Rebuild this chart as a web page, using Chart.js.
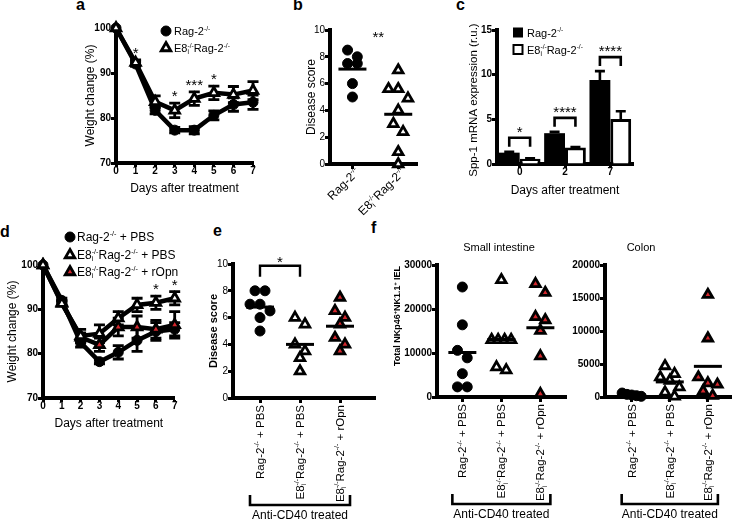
<!DOCTYPE html>
<html>
<head>
<meta charset="utf-8">
<script src="https://cdn.jsdelivr.net/npm/chart.js@4.4.1/dist/chart.umd.min.js"></script>
<style>
  body { margin: 0; width: 740px; height: 525px; position: relative; overflow: hidden; background: #fff; }
  canvas { position: absolute; }
  .tag { position: absolute; font: bold 16px/16px "Liberation Sans", Arial, sans-serif; color: #000; }
</style>
</head>
<body>
<div class="tag" style="left:76px;top:-3px">a</div>
<div class="tag" style="left:293px;top:-3px">b</div>
<div class="tag" style="left:456px;top:-3px">c</div>
<div class="tag" style="left:0px;top:224px">d</div>
<div class="tag" style="left:213px;top:223px">e</div>
<div class="tag" style="left:371px;top:220px">f</div>
<canvas id="chartA" width="186" height="182" style="left:76px;top:18px"></canvas>
<canvas id="chartB" width="130" height="200" style="left:296px;top:20px"></canvas>
<canvas id="chartC" width="180" height="190" style="left:460px;top:12px"></canvas>
<canvas id="chartD" width="180" height="210" style="left:3px;top:225px"></canvas>
<canvas id="chartE" width="190" height="285" style="left:200px;top:240px"></canvas>
<canvas id="chartF1" width="190" height="285" style="left:385px;top:240px"></canvas>
<canvas id="chartF2" width="175" height="285" style="left:565px;top:240px"></canvas>
<script>
// ---------- data ----------
const days = [0, 1, 2, 3, 4, 5, 6, 7]

// a - weight change
const aRag = [100, 92, 81.7, 77.3, 77.3, 80.6, 83, 83.5]
const aRagErr = [0, 0.5, 0.8, 0.6, 0.8, 1, 1.5, 1.6]
const aE8 = [100, 92.3, 83.6, 81.7, 84.3, 85.6, 85.2, 86.1]
const aE8Err = [0, 0.6, 1.3, 1.6, 1.5, 1.5, 1.8, 2]
const aStars = ['', '*', '', '*', '***', '*', '', '']

// b - disease score
const bGroups = ['Rag-2^{-/-}', 'E8_{i}^{-/-}Rag-2^{-/-}']
const bRag = [8.5, 8.0, 7.5, 7.5, 6.0, 5.0]
const bE8 = [7.0, 5.6, 5.6, 4.9, 4.0, 3.0, 2.4, 0.9, 0]

// c - Spp-1 expression
const cDays = ['0', '2', '7']
const cRag = [1.27, 3.45, 9.4]
const cRagErr = [0.1, 0.15, 1.0]
const cE8 = [0.6, 1.85, 5.05]
const cE8Err = [0.05, 0.05, 0.85]
const cStars = ['*', '****', '****']

// d - weight change with rOpn
const dRag = [100, 92, 82.5, 78.2, 80.3, 83, 85, 85.5]
const dRagErr = [0, 0.5, 1, 0.5, 1.5, 2.5, 2, 1.5]
const dE8 = [100, 91.3, 84, 84.5, 88, 91, 91.5, 92.5]
const dE8Err = [0, 0.5, 1.5, 2, 1.5, 1.5, 1.5, 1.5]
const dOpn = [100, 91.5, 83.7, 82, 86, 86, 85.5, 86.5]
const dOpnErr = [0, 0.5, 1, 1.5, 2, 2.5, 2, 3]
const dStars = ['', '', '', '', '', '', '*', '*']

// e, f - anti-CD40 treated groups
const efGroups = ['Rag-2^{-/-} + PBS', 'E8_{i}^{-/-}Rag-2^{-/-} + PBS', 'E8_{i}^{-/-}Rag-2^{-/-} + rOpn']
const eRag = [8, 8, 7, 7, 6.5, 6, 5]
const eE8 = [6, 5.5, 4, 3.5, 3, 2]
const eOpn = [7.5, 6.5, 6, 5.5, 4.5, 4, 3.5]
const siRag = [25000, 16400, 10600, 8900, 5300, 2300, 2300]
const siE8 = [26600, 13000, 13000, 13000, 13000, 6800, 6100]
const siOpn = [25700, 23700, 18200, 17500, 15100, 9300, 700]
const coRag = [600, 400, 300, 200, 100]
const coE8 = [4700, 3500, 3000, 2500, 1500, 700, 100]
const coOpn = [15500, 8900, 3000, 2100, 1900, 900, 200]

// ---------- helpers ----------
const FONT = '"Liberation Sans", Arial, Helvetica, sans-serif'
Chart.defaults.font.family = FONT
Chart.defaults.color = '#000'
const RED = '#d3262c'

const CIRCLE = { pointStyle: 'circle', pointRadius: 5, pointBackgroundColor: '#000', pointBorderColor: '#000', pointBorderWidth: 1 }
const OPEN = { pointStyle: 'triangle', pointRadius: 5.5, pointBackgroundColor: '#fff', pointBorderColor: '#000', pointBorderWidth: 2.8 }
const REDTRI = { pointStyle: 'triangle', pointRadius: 5.5, pointBackgroundColor: RED, pointBorderColor: '#000', pointBorderWidth: 2.8 }
const BLACKSQ = { pointStyle: 'rect', pointRadius: 5, pointBackgroundColor: '#000', pointBorderWidth: 0 }
const WHITESQ = { pointStyle: 'rect', pointRadius: 4.5, pointBackgroundColor: '#fff', pointBorderWidth: 2 }

// text with ^{sup} and _{sub}
function richParse(str) {
  const out = []
  let buf = '', i = 0
  while (i < str.length) {
    const c = str[i]
    if ((c === '^' || c === '_') && str[i + 1] === '{') {
      if (buf) { out.push({ t: buf, m: 'n' }); buf = '' }
      const end = str.indexOf('}', i)
      out.push({ t: str.slice(i + 2, end), m: c === '^' ? 'sup' : 'sub' })
      i = end + 1
    } else { buf += c; i++ }
  }
  if (buf) out.push({ t: buf, m: 'n' })
  return out
}

function richDraw(ctx, str, x, y, size, weight, align) {
  const segs = richParse(str), small = size * 0.6
  const items = []
  let w = 0
  segs.forEach((s, i) => {
    const fs = s.m === 'n' ? size : small
    ctx.font = weight + ' ' + fs + 'px ' + FONT
    const sw = ctx.measureText(s.t).width
    if (s.m === 'sup' && i > 0 && segs[i - 1].m === 'sub') {
      const px = items[items.length - 1].x
      items.push({ s: s, fs: fs, x: px })
      w = Math.max(w, px + sw)
    } else {
      items.push({ s: s, fs: fs, x: w })
      w += sw
    }
  })
  const x0 = align === 'right' ? x - w : align === 'center' ? x - w / 2 : x
  ctx.textAlign = 'left'
  ctx.textBaseline = 'alphabetic'
  items.forEach(it => {
    ctx.font = weight + ' ' + it.fs + 'px ' + FONT
    const dy = it.s.m === 'sup' ? -size * 0.4 : it.s.m === 'sub' ? size * 0.2 : 0
    ctx.fillText(it.s.t, x0 + it.x, y + dy)
  })
  return w
}

function drawMarker(ctx, st, x, y) {
  const r = st.pointRadius
  ctx.save()
  ctx.fillStyle = st.pointBackgroundColor
  ctx.strokeStyle = '#000'
  ctx.lineWidth = st.pointBorderWidth
  ctx.beginPath()
  if (st.pointStyle === 'circle') ctx.arc(x, y, r, 0, 2 * Math.PI)
  else if (st.pointStyle === 'rect') ctx.rect(x - r, y - r, 2 * r, 2 * r)
  else {
    for (let k = 0; k < 3; k++) {
      const a = k * 2 * Math.PI / 3
      const px = x + Math.sin(a) * r, py = y - Math.cos(a) * r
      if (k) ctx.lineTo(px, py); else ctx.moveTo(px, py)
    }
    ctx.closePath()
  }
  ctx.fill()
  if (st.pointBorderWidth) ctx.stroke()
  ctx.restore()
}

function drawLegend(ctx, ca, lg) {
  lg.items.forEach((it, k) => {
    const cy = ca.top + lg.ys[k]
    drawMarker(ctx, it.st, ca.left + lg.x, cy)
    ctx.fillStyle = '#000'
    richDraw(ctx, it.label, ca.left + lg.x + lg.dx, cy + 4, lg.size, 'normal', 'left')
  })
}

function drawStar(ctx, s, x, baseline) {
  ctx.save()
  ctx.fillStyle = '#000'
  ctx.font = '15px ' + FONT
  ctx.textAlign = 'center'
  ctx.textBaseline = 'alphabetic'
  ctx.fillText(s, x, baseline)
  ctx.restore()
}

function drawYTitle(ctx, t) {
  ctx.save()
  ctx.fillStyle = '#000'
  ctx.translate(t.x, t.y)
  ctx.rotate(-Math.PI / 2)
  richDraw(ctx, t.text, 0, t.size * 0.36, t.size, t.weight, 'center')
  ctx.restore()
}

// simple dot-plot spreading: points of close value share a row, centred on the category
function swarm(values, pxPerY, pxPerCat, diam) {
  const order = values.map((v, i) => i).sort((a, b) => values[b] - values[a])
  const offs = values.map(() => 0)
  let row = []
  const flush = () => {
    const d = row.length > 1 ? Math.min(diam, 20 / (row.length - 1)) : 0
    row.forEach((idx, k) => { offs[idx] = (k - (row.length - 1) / 2) * d / pxPerCat })
    row = []
  }
  order.forEach(idx => {
    if (row.length && (values[row[0]] - values[idx]) * pxPerY >= diam) flush()
    row.push(idx)
  })
  flush()
  return offs
}

function axisBase(o) {
  const grid = Object.assign({ display: true, drawOnChartArea: false, drawTicks: true, tickLength: 5, tickWidth: 3, tickColor: '#000' }, o.grid || {})
  return Object.assign({ border: { display: true, color: '#000', width: 4 } }, o, { grid: grid })
}
const fixW = w => s => { s.width = w }
const fixH = h => s => { s.height = h }
const fixTicks = vals => s => { s.ticks = vals.map(v => ({ value: v })) }
const BOLD10 = { size: 10, weight: 'bold' }

function lineSet(vals, errs, st) {
  return Object.assign({
    data: days.map((d, i) => ({ x: d, y: vals[i] })),
    errors: errs, borderColor: '#000', borderWidth: 4.5, clip: false, tension: 0
  }, st)
}

function dotSets(groupVals, styles, pxY, pxCat) {
  return groupVals.map((vals, g) => {
    const offs = swarm(vals, pxY, pxCat, 10)
    return Object.assign({ data: vals.map((v, i) => ({ x: g + offs[i], y: v })), clip: false }, styles[g])
  })
}

const errorBars = {
  id: 'errorBars',
  beforeDatasetsDraw(chart) {
    const ctx = chart.ctx, y = chart.scales.y
    ctx.save()
    ctx.strokeStyle = '#000'
    ctx.lineWidth = 2.8
    chart.data.datasets.forEach((ds, i) => {
      chart.getDatasetMeta(i).data.forEach((pt, j) => {
        const e = ds.errors[j]
        if (!e) return
        const v = ds.data[j].y
        const y1 = y.getPixelForValue(v + e), y2 = y.getPixelForValue(v - e)
        ctx.beginPath()
        ctx.moveTo(pt.x, y1); ctx.lineTo(pt.x, y2)
        ctx.moveTo(pt.x - 5.5, y1); ctx.lineTo(pt.x + 5.5, y1)
        ctx.moveTo(pt.x - 5.5, y2); ctx.lineTo(pt.x + 5.5, y2)
        ctx.stroke()
      })
    })
    ctx.restore()
  }
}

function lineExtras(cfg) {
  return {
    id: 'lineExtras',
    afterDatasetsDraw(chart) {
      const ctx = chart.ctx, ca = chart.chartArea, x = chart.scales.x, y = chart.scales.y
      cfg.stars.forEach((s, i) => {
        if (!s) return
        let top = Infinity
        chart.data.datasets.forEach(ds => {
          top = Math.min(top, y.getPixelForValue(ds.data[i].y + (ds.errors[i] || 0)))
        })
        drawStar(ctx, s, x.getPixelForValue(days[i]), top - 2)
      })
      drawLegend(ctx, ca, cfg.legend)
    }
  }
}

function dotExtras(cfg) {
  return {
    id: 'dotExtras',
    afterDatasetsDraw(chart) {
      const ctx = chart.ctx, ca = chart.chartArea, x = chart.scales.x, y = chart.scales.y
      ctx.save()
      ctx.strokeStyle = '#000'
      ctx.fillStyle = '#000'
      // group means
      ctx.lineWidth = 3
      chart.data.datasets.forEach((ds, g) => {
        const m = ds.data.reduce((s, p) => s + p.y, 0) / ds.data.length
        const px = x.getPixelForValue(g), py = y.getPixelForValue(m)
        ctx.beginPath(); ctx.moveTo(px - 14, py); ctx.lineTo(px + 14, py); ctx.stroke()
      })
      // category labels
      cfg.groups.forEach((lab, g) => {
        ctx.save()
        ctx.translate(x.getPixelForValue(g) + cfg.labDx, ca.bottom + cfg.labDy)
        ctx.rotate(cfg.labAngle)
        richDraw(ctx, lab, 0, 4, cfg.labSize, 'normal', 'right')
        ctx.restore()
      })
      // significance
      if (cfg.sig) {
        const sg = cfg.sig
        const maxV = Math.max(...chart.data.datasets[sg.from].data.map(p => p.y), ...chart.data.datasets[sg.to].data.map(p => p.y))
        const x0 = x.getPixelForValue(sg.from), x1 = x.getPixelForValue(sg.to)
        const top = y.getPixelForValue(maxV) - sg.gap
        ctx.lineWidth = 2.4
        if (sg.bracket) {
          ctx.beginPath()
          ctx.moveTo(x0, top + 11); ctx.lineTo(x0, top); ctx.lineTo(x1, top); ctx.lineTo(x1, top + 11)
          ctx.stroke()
        }
        drawStar(ctx, sg.label, (x0 + x1) / 2 + sg.dx, top + 1)
      }
      // treatment bracket
      if (cfg.treated) {
        const x0 = x.getPixelForValue(0) - 10, x2 = x.getPixelForValue(2) + 10, by = ca.bottom + 107
        ctx.lineWidth = 2.6
        ctx.beginPath()
        ctx.moveTo(x0, by - 10); ctx.lineTo(x0, by); ctx.lineTo(x2, by); ctx.lineTo(x2, by - 10)
        ctx.stroke()
        ctx.font = '12px ' + FONT
        ctx.textAlign = 'center'
        ctx.textBaseline = 'alphabetic'
        ctx.fillText('Anti-CD40 treated', x.getPixelForValue(1), ca.bottom + 121)
      }
      if (cfg.title) {
        ctx.font = '11px ' + FONT
        ctx.textAlign = 'center'
        ctx.textBaseline = 'middle'
        ctx.fillText(cfg.title.text, cfg.title.x, cfg.title.y)
      }
      if (cfg.yTitle) drawYTitle(ctx, cfg.yTitle)
      ctx.restore()
    }
  }
}

const barExtras = {
  id: 'barExtras',
  afterDatasetsDraw(chart) {
    const ctx = chart.ctx, ca = chart.chartArea, y = chart.scales.y
    const tops = []
    ctx.save()
    ctx.strokeStyle = '#000'
    ctx.lineWidth = 2.6
    chart.data.datasets.forEach((ds, i) => {
      chart.getDatasetMeta(i).data.forEach((bar, j) => {
        const yt = y.getPixelForValue(ds.data[j] + ds.errors[j])
        ctx.beginPath()
        ctx.moveTo(bar.x, bar.y); ctx.lineTo(bar.x, yt)
        ctx.moveTo(bar.x - 5, yt); ctx.lineTo(bar.x + 5, yt)
        ctx.stroke()
        tops[j] = Math.min(tops[j] === undefined ? Infinity : tops[j], yt)
      })
    })
    const m0 = chart.getDatasetMeta(0).data, m1 = chart.getDatasetMeta(1).data
    cStars.forEach((s, j) => {
      const top = tops[j] - 14
      ctx.beginPath()
      ctx.moveTo(m0[j].x, top + 9); ctx.lineTo(m0[j].x, top); ctx.lineTo(m1[j].x, top); ctx.lineTo(m1[j].x, top + 9)
      ctx.stroke()
      drawStar(ctx, s, (m0[j].x + m1[j].x) / 2, top - 1)
    })
    ctx.restore()
    drawLegend(ctx, ca, {
      items: [{ st: BLACKSQ, label: 'Rag-2^{-/-}' }, { st: WHITESQ, label: 'E8_{i}^{-/-}Rag-2^{-/-}' }],
      x: 21, ys: [2.5, 19.5], dx: 9, size: 11
    })
    drawYTitle(ctx, { text: 'Spp-1 mRNA expression (r.u.)', x: 13, y: 88, size: 11.5, weight: 'normal' })
  }
}

const base = {
  responsive: false, animation: false, events: [],
  plugins: { legend: { display: false }, tooltip: { enabled: false } }
}
const xTitle = { display: true, text: 'Days after treatment', font: { size: 12 }, padding: { top: 0, bottom: 4 } }

// ---------- a ----------
new Chart(document.getElementById('chartA'), {
  type: 'line',
  data: { datasets: [lineSet(aE8, aE8Err, OPEN), lineSet(aRag, aRagErr, CIRCLE)] },
  options: Object.assign({}, base, {
    layout: { padding: { top: 10, right: 9, left: 0, bottom: 0 } },
    scales: {
      x: axisBase({ type: 'linear', min: 0, max: 7, afterFit: fixH(37),
        grid: { tickLength: 4 },
        ticks: { stepSize: 1, font: BOLD10, padding: -2 }, title: xTitle }),
      y: axisBase({ min: 70, max: 100, afterFit: fixW(40),
        ticks: { stepSize: 10, font: BOLD10, padding: 0 },
        title: { display: true, text: 'Weight change (%)', font: { size: 12 }, padding: { top: 7 } } })
    }
  }),
  plugins: [errorBars, lineExtras({
    stars: aStars,
    legend: { items: [{ st: CIRCLE, label: 'Rag-2^{-/-}' }, { st: OPEN, label: 'E8_{i}^{-/-}Rag-2^{-/-}' }], x: 50, ys: [3, 20], dx: 8, size: 11 }
  })]
})

// ---------- b ----------
new Chart(document.getElementById('chartB'), {
  type: 'scatter',
  data: { datasets: dotSets([bRag, bE8], [CIRCLE, OPEN], 13.4, 47) },
  options: Object.assign({}, base, {
    layout: { padding: { top: 10, right: 6, left: 0, bottom: 0 } },
    scales: {
      x: axisBase({ type: 'linear', min: -0.49, max: 1.425, afterFit: fixH(56),
        afterBuildTicks: fixTicks([0, 1]), ticks: { display: false } }),
      y: axisBase({ min: 0, max: 10, afterFit: fixW(34),
        ticks: { stepSize: 2, font: { size: 10 }, padding: 0 },
        title: { display: true, text: 'Disease score', font: { size: 12 }, padding: { top: 8 } } })
    }
  }),
  plugins: [dotExtras({ groups: bGroups, labDx: 5, labDy: 6, labAngle: -Math.PI / 4, labSize: 12,
    sig: { from: 0, to: 1, label: '**', bracket: false, gap: 9, dx: 3 } })]
})

// ---------- c ----------
new Chart(document.getElementById('chartC'), {
  type: 'bar',
  data: {
    labels: cDays,
    datasets: [
      { data: cRag, errors: cRagErr, backgroundColor: '#000', borderColor: '#000', borderWidth: 0, categoryPercentage: 0.92, barPercentage: 1 },
      { data: cE8, errors: cE8Err, backgroundColor: '#fff', borderColor: '#000', borderWidth: 3, categoryPercentage: 0.92, barPercentage: 1 }
    ]
  },
  options: Object.assign({}, base, {
    layout: { padding: { top: 18, right: 7, left: 0, bottom: 0 } },
    scales: {
      x: axisBase({ afterFit: fixH(38), grid: { offset: false, tickLength: 4 },
        ticks: { font: BOLD10, padding: -2 }, title: xTitle }),
      y: axisBase({ min: 0, max: 15, afterFit: fixW(37),
        ticks: { stepSize: 5, font: BOLD10, padding: 0 } })
    }
  }),
  plugins: [barExtras]
})

// ---------- d ----------
new Chart(document.getElementById('chartD'), {
  type: 'line',
  data: { datasets: [lineSet(dE8, dE8Err, OPEN), lineSet(dOpn, dOpnErr, REDTRI), lineSet(dRag, dRagErr, CIRCLE)] },
  options: Object.assign({}, base, {
    layout: { padding: { top: 40, right: 7, left: 0, bottom: 0 } },
    scales: {
      x: axisBase({ type: 'linear', min: 0, max: 7, afterFit: fixH(37),
        grid: { tickLength: 4 },
        ticks: { stepSize: 1, font: BOLD10, padding: -2 }, title: xTitle }),
      y: axisBase({ min: 70, max: 100, afterFit: fixW(40),
        ticks: { stepSize: 10, font: BOLD10, padding: 0 },
        title: { display: true, text: 'Weight change (%)', font: { size: 12 }, padding: { top: 2 } } })
    }
  }),
  plugins: [errorBars, lineExtras({
    stars: dStars,
    legend: {
      items: [
        { st: CIRCLE, label: 'Rag-2^{-/-} + PBS' },
        { st: OPEN, label: 'E8_{i}^{-/-}Rag-2^{-/-} + PBS' },
        { st: REDTRI, label: 'E8_{i}^{-/-}Rag-2^{-/-} + rOpn' }
      ],
      x: 27, ys: [-28, -10, 7], dx: 7, size: 12
    }
  })]
})

// ---------- e ----------
new Chart(document.getElementById('chartE'), {
  type: 'scatter',
  data: { datasets: dotSets([eRag, eE8, eOpn], [CIRCLE, OPEN, REDTRI], 13.4, 40) },
  options: Object.assign({}, base, {
    layout: { padding: { top: 24, right: 15, left: 0, bottom: 0 } },
    scales: {
      x: axisBase({ type: 'linear', min: -0.675, max: 2.875, afterFit: fixH(127),
        afterBuildTicks: fixTicks([0, 1, 2]), ticks: { display: false } }),
      y: axisBase({ min: 0, max: 10, afterFit: fixW(33),
        ticks: { stepSize: 2, font: { size: 10 }, padding: 0 },
        title: { display: true, text: 'Disease score', font: { size: 11, weight: 'bold' }, padding: { top: 7 } } })
    }
  }),
  plugins: [dotExtras({ groups: efGroups, labDx: 0, labDy: 7, labAngle: -Math.PI / 2, labSize: 11.5, treated: true,
    sig: { from: 0, to: 1, label: '*', bracket: true, gap: 25, dx: 0 } })]
})

// ---------- f: small intestine ----------
new Chart(document.getElementById('chartF1'), {
  type: 'scatter',
  data: { datasets: dotSets([siRag, siE8, siOpn], [CIRCLE, OPEN, REDTRI], 132 / 30000, 40) },
  options: Object.assign({}, base, {
    layout: { padding: { top: 25, right: 5, left: 0, bottom: 0 } },
    scales: {
      x: axisBase({ type: 'linear', min: -0.65, max: 2.675, afterFit: fixH(128),
        afterBuildTicks: fixTicks([0, 1, 2]), ticks: { display: false } }),
      y: axisBase({ min: 0, max: 30000, afterFit: fixW(52),
        ticks: { stepSize: 10000, font: BOLD10, padding: 0, callback: v => String(v) } })
    }
  }),
  plugins: [dotExtras({ groups: efGroups, labDx: 0, labDy: 7, labAngle: -Math.PI / 2, labSize: 11.5, treated: true,
    title: { text: 'Small intestine', x: 114, y: 8 },
    yTitle: { text: 'Total NKp46^{+}NK1.1^{+} IEL', x: 12, y: 76, size: 9, weight: 'bold' } })]
})

// ---------- f: colon ----------
new Chart(document.getElementById('chartF2'), {
  type: 'scatter',
  data: { datasets: dotSets([coRag, coE8, coOpn], [CIRCLE, OPEN, REDTRI], 132 / 20000, 40) },
  options: Object.assign({}, base, {
    layout: { padding: { top: 25, right: 2, left: 0, bottom: 0 } },
    scales: {
      x: axisBase({ type: 'linear', min: -0.7, max: 2.625, afterFit: fixH(128),
        afterBuildTicks: fixTicks([0, 1, 2]), ticks: { display: false } }),
      y: axisBase({ min: 0, max: 20000, afterFit: fixW(40),
        ticks: { stepSize: 5000, font: BOLD10, padding: 0, callback: v => String(v) } })
    }
  }),
  plugins: [dotExtras({ groups: efGroups, labDx: 0, labDy: 7, labAngle: -Math.PI / 2, labSize: 11.5, treated: true,
    title: { text: 'Colon', x: 76, y: 8 } })]
})
</script>
</body>
</html>
